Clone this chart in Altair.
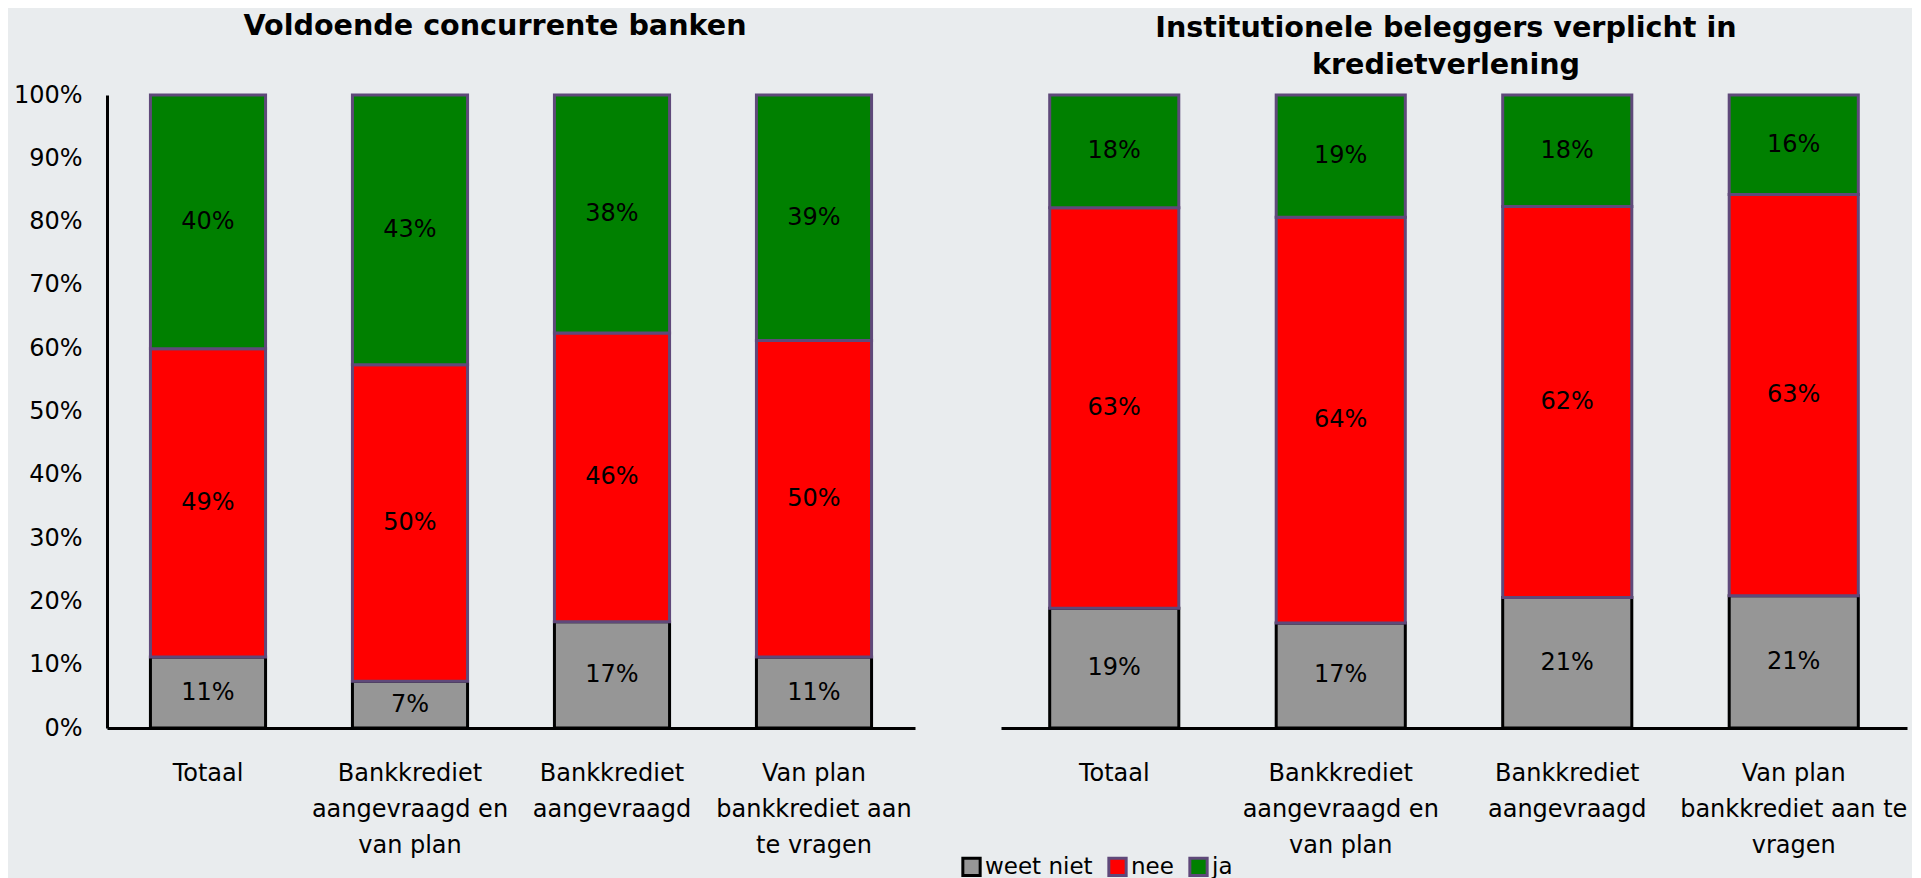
import json
import altair as alt
import pandas as pd

# ---------------- data ----------------
categories = [
    "Totaal",
    "Bankkrediet aangevraagd en van plan",
    "Bankkrediet aangevraagd",
    "Van plan bankkrediet aan te vragen",
]
answers = ["weet niet", "nee", "ja"]

left_title = ["Voldoende concurrente banken", " "]
left_weet_niet = [0.112, 0.074, 0.168, 0.112]
left_nee = [0.487, 0.500, 0.456, 0.500]
left_ja = [0.401, 0.426, 0.376, 0.388]
left_tick_labels = [
    ["Totaal"],
    ["Bankkrediet", "aangevraagd en", "van plan"],
    ["Bankkrediet", "aangevraagd"],
    ["Van plan", "bankkrediet aan", "te vragen"],
]

right_title = ["Institutionele beleggers verplicht in", "kredietverlening"]
right_weet_niet = [0.189, 0.166, 0.206, 0.209]
right_nee = [0.633, 0.641, 0.618, 0.634]
right_ja = [0.178, 0.193, 0.176, 0.157]
right_tick_labels = [
    ["Totaal"],
    ["Bankkrediet", "aangevraagd en", "van plan"],
    ["Bankkrediet", "aangevraagd"],
    ["Van plan", "bankkrediet aan te", "vragen"],
]

y_ticks = [0, 0.1, 0.2, 0.3, 0.4, 0.5, 0.6, 0.7, 0.8, 0.9, 1.0]

fill_colors = ["#969696", "#FF0000", "#008000"]
stroke_colors = ["#000000", "#5F497A", "#5F497A"]
BG = "#E9ECEE"
FONT = "DejaVu Sans"
FS = 24


def label_expr(lbls):
    parts = [f"datum.value === {json.dumps(c)} ? {json.dumps(l)}" for c, l in zip(categories, lbls)]
    return " : ".join(parts) + " : datum.value"


def make_panel(title, wn, nee, ja, lbls, width, show_y, dx, dy):
    rows = []
    for i, c in enumerate(categories):
        for k, (a, vals) in enumerate(zip(answers, [wn, nee, ja])):
            rows.append({"cat": c, "ans": a, "ord": k, "val": vals[i]})
    df = pd.DataFrame(rows)

    base = (
        alt.Chart(df)
        .transform_stack(stack="val", groupby=["cat"], as_=["v0", "v1"], sort=[alt.SortField("ord", order="ascending")])
        .transform_calculate(mid="(datum.v0 + datum.v1) / 2")
    )

    x = alt.X(
        "cat:N",
        sort=categories,
        scale=alt.Scale(paddingInner=0.43, paddingOuter=0.215),
        axis=alt.Axis(
            title=None,
            labelAngle=0,
            labelExpr=label_expr(lbls),
            labelFont=FONT,
            labelFontSize=FS,
            labelLineHeight=36,
            labelPadding=33,
            labelBaseline="top",
            labelColor="black",
            labelLimit=400,
            labelOverlap=False,
            ticks=False,
            domainColor="black",
            domainWidth=3,
            grid=False,
        ),
    )
    if show_y:
        yaxis = alt.Axis(
            title=None,
            format=".0%",
            values=y_ticks,
            ticks=False,
            grid=False,
            labelPadding=25,
            labelFont=FONT,
            labelFontSize=FS,
            labelColor="black",
            domainColor="black",
            domainWidth=3,
        )
    else:
        yaxis = None
    yscale = alt.Scale(domain=[0, 1], nice=False)

    bars = base.mark_bar(strokeWidth=3).encode(
        x=x,
        y=alt.Y("v0:Q", scale=yscale, axis=yaxis),
        y2="v1:Q",
        color=alt.Color("ans:N", scale=alt.Scale(domain=answers, range=fill_colors), legend=alt.Legend(title=None)),
        stroke=alt.Stroke("ans:N", scale=alt.Scale(domain=answers, range=stroke_colors), legend=alt.Legend(title=None)),
        order=alt.Order("ord:Q"),
    )
    texts = base.mark_text(font=FONT, fontSize=FS, color="black", baseline="middle").encode(
        x=alt.X("cat:N", sort=categories),
        y=alt.Y("mid:Q", scale=yscale),
        text=alt.Text("val:Q", format=".0%"),
    )
    return (bars + texts).properties(
        width=width,
        height=633,
        title=alt.TitleParams(text=title, dx=dx, dy=dy),
    )


left = make_panel(left_title, left_weet_niet, left_nee, left_ja, left_tick_labels, 808, True, -16, 0)
right = make_panel(right_title, right_weet_niet, right_nee, right_ja, right_tick_labels, 906, False, -8, -9)

chart = (
    alt.hconcat(left, right, spacing=86)
    .properties(background=BG, padding={"left": 5, "top": 4, "right": 5, "bottom": 10})
    .configure_view(stroke=None)
    .configure_title(
        font=FONT,
        fontSize=28.6,
        fontWeight="bold",
        color="black",
        lineHeight=37,
        anchor="middle",
        offset=5,
    )
    .configure_legend(
        orient="none",
        legendX=853,
        legendY=760,
        direction="horizontal",
        symbolType="square",
        symbolSize=300,
        symbolStrokeWidth=3,
        symbolOpacity=1,
        labelFont=FONT,
        labelFontSize=23,
        labelColor="black",
        labelOffset=2,
        columnPadding=9,
    )
)

chart.save("out.html", embed_options={"renderer": "svg", "actions": False})
